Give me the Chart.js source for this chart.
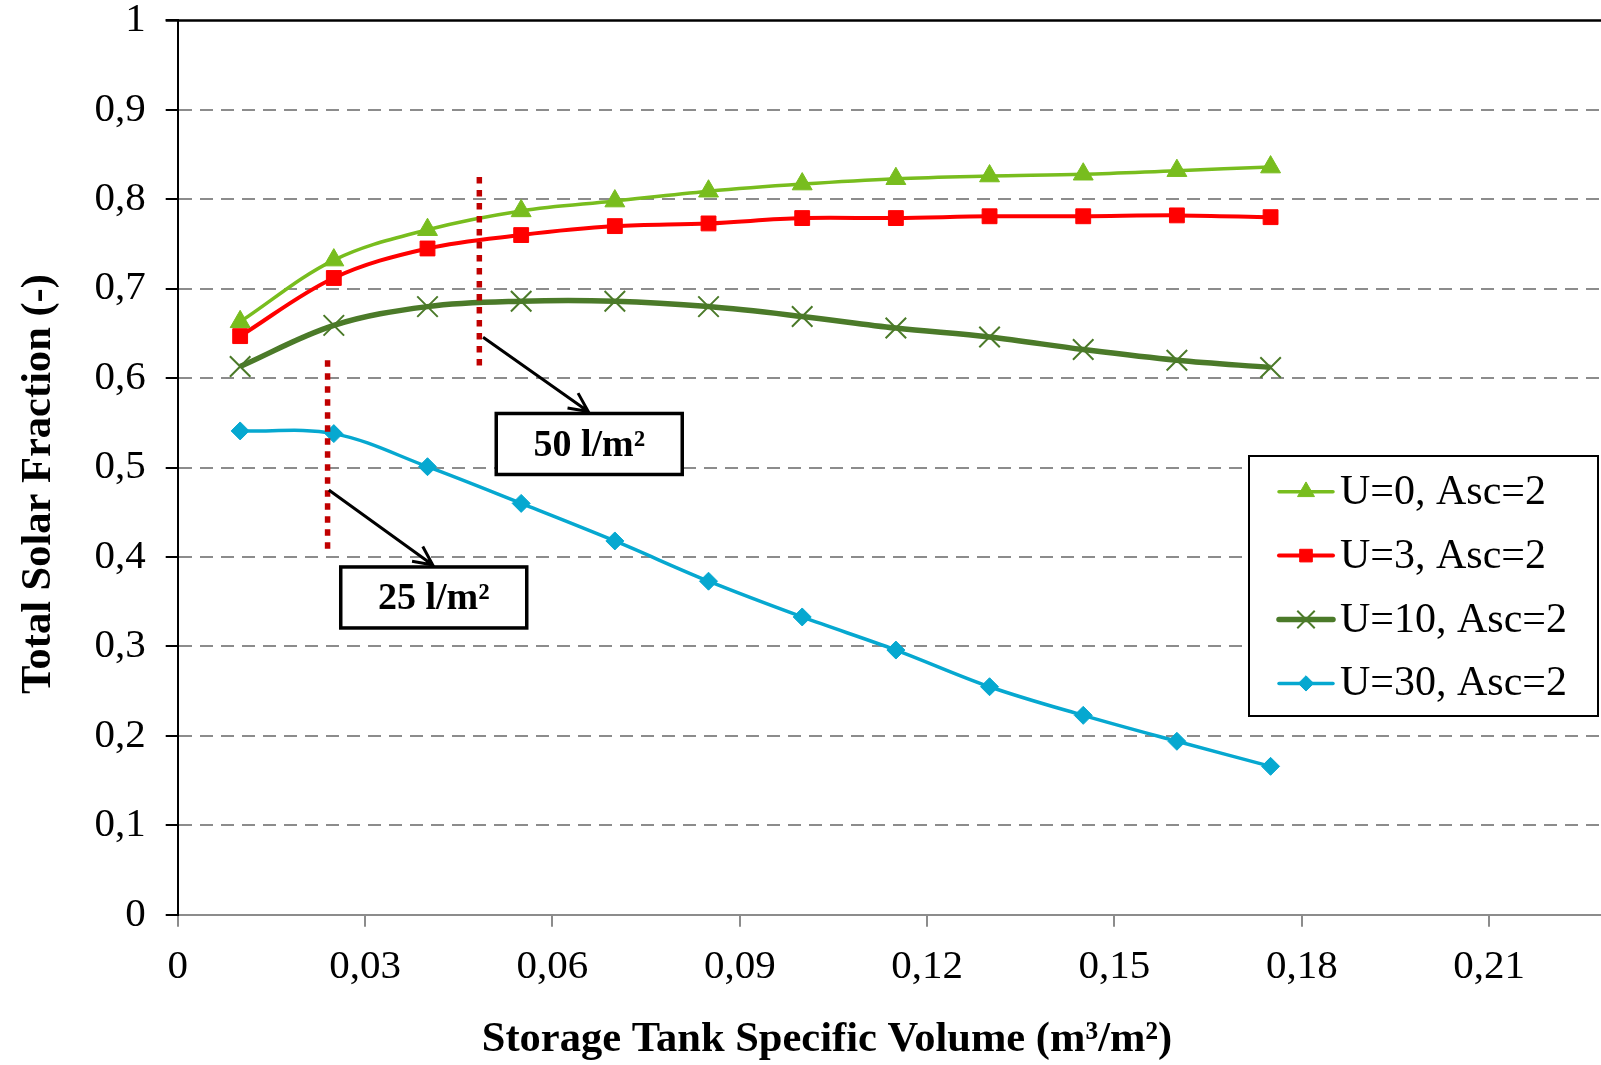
<!DOCTYPE html>
<html>
<head>
<meta charset="utf-8">
<script src="https://cdn.jsdelivr.net/npm/chart.js@4.4.1/dist/chart.umd.min.js"></script>
<style>
  html, body { margin: 0; padding: 0; background: #fff; }
  #wrap { width: 1601px; height: 1065px; overflow: hidden; position: relative; background: #fff; }
  canvas { display: block; }
</style>
</head>
<body>
<div id="wrap"><canvas id="fraction-chart" width="1700" height="1065"></canvas></div>
<script>
// storage tank specific volume (m3/m2)
const specVolume = [0.01, 0.025, 0.04, 0.055, 0.07, 0.085, 0.1, 0.115, 0.13, 0.145, 0.16, 0.175];

// total solar fraction for each heat loss coefficient U
const fracU0  = [0.663, 0.732, 0.766, 0.787, 0.798, 0.809, 0.817, 0.823, 0.826, 0.828, 0.832, 0.836];
const fracU3  = [0.647, 0.712, 0.745, 0.760, 0.770, 0.773, 0.779, 0.779, 0.781, 0.781, 0.782, 0.780];
const fracU10 = [0.613, 0.659, 0.680, 0.686, 0.686, 0.680, 0.669, 0.656, 0.646, 0.632, 0.620, 0.612];
const fracU30 = [0.541, 0.538, 0.501, 0.460, 0.418, 0.373, 0.333, 0.296, 0.255, 0.223, 0.194, 0.166];

const seriesLabels = ['U=0, Asc=2', 'U=3, Asc=2', 'U=10, Asc=2', 'U=30, Asc=2'];

const xTicks = [0, 0.03, 0.06, 0.09, 0.12, 0.15, 0.18, 0.21];
const yTicks = [0, 0.1, 0.2, 0.3, 0.4, 0.5, 0.6, 0.7, 0.8, 0.9, 1];

// 25 and 50 l/m2 markers: dotted line, arrow and label box (data units)
const notes = [
  { text: '25 l/m²', lineX: 0.024, lineFrom: 0.407, lineTo: 0.620, arrowX: 0.0242, arrowY: 0.475, boxX: 0.0410, boxY: 0.3548 },
  { text: '50 l/m²', lineX: 0.0483, lineFrom: 0.610, lineTo: 0.825, arrowX: 0.0489, arrowY: 0.6457, boxX: 0.0659, boxY: 0.5264 }
];

const serif = "'Liberation Serif', 'Times New Roman', serif";

const fmt = v => {
  const r = Math.round(v * 100) / 100;
  return r === 0 ? '0' : String(r).replace('.', ',');
};

function series(label, values, color, width, style, radius, pointBorder) {
  return {
    label: label,
    data: specVolume.map((x, i) => ({ x: x, y: values[i] })),
    borderColor: color,
    backgroundColor: color,
    borderWidth: width,
    pointStyle: style,
    pointRadius: radius,
    pointBackgroundColor: color,
    pointBorderColor: color,
    pointBorderWidth: pointBorder,
    tension: 0.35,
    fill: false
  };
}

const datasets = [
  series(seriesLabels[0], fracU0, '#78bd1e', 3.5, 'triangle', 11.5, 1),
  series(seriesLabels[1], fracU3, '#ff0000', 4, 'rect', 10.5, 1),
  series(seriesLabels[2], fracU10, '#4b7a29', 5.5, 'crossRot', 14.5, 2),
  series(seriesLabels[3], fracU30, '#06a8d0', 3.5, 'rectRot', 9, 1)
];

function arrow(ctx, x1, y1, x2, y2) {
  const ang = Math.atan2(y2 - y1, x2 - x1);
  const head = 21, spread = 0.45;
  ctx.beginPath();
  ctx.moveTo(x1, y1);
  ctx.lineTo(x2, y2);
  ctx.moveTo(x2 - head * Math.cos(ang - spread), y2 - head * Math.sin(ang - spread));
  ctx.lineTo(x2, y2);
  ctx.lineTo(x2 - head * Math.cos(ang + spread), y2 - head * Math.sin(ang + spread));
  ctx.stroke();
}

const extras = {
  id: 'extras',
  afterDatasetsDraw(chart) {
    const { ctx, chartArea, scales: { x, y } } = chart;
    ctx.save();

    // top frame line at 1
    ctx.strokeStyle = '#000';
    ctx.lineWidth = 2.5;
    ctx.beginPath();
    ctx.moveTo(chartArea.left - 12, y.getPixelForValue(1));
    ctx.lineTo(chartArea.right, y.getPixelForValue(1));
    ctx.stroke();

    notes.forEach(n => {
      // dotted marker line
      ctx.strokeStyle = '#c00000';
      ctx.lineWidth = 5.5;
      ctx.setLineDash([6.5, 6.5]);
      ctx.beginPath();
      ctx.moveTo(x.getPixelForValue(n.lineX), y.getPixelForValue(n.lineTo));
      ctx.lineTo(x.getPixelForValue(n.lineX), y.getPixelForValue(n.lineFrom));
      ctx.stroke();
      ctx.setLineDash([]);

      // label box
      const bw = 186, bh = 61;
      const cx = x.getPixelForValue(n.boxX), cy = y.getPixelForValue(n.boxY);
      ctx.fillStyle = '#fff';
      ctx.fillRect(cx - bw / 2, cy - bh / 2, bw, bh);
      ctx.strokeStyle = '#000';
      ctx.lineWidth = 3.5;
      ctx.strokeRect(cx - bw / 2, cy - bh / 2, bw, bh);
      ctx.fillStyle = '#000';
      ctx.font = 'bold 38px ' + serif;
      ctx.textAlign = 'center';
      ctx.textBaseline = 'middle';
      ctx.fillText(n.text, cx, cy + 2);

      // arrow pointing at the box
      ctx.lineWidth = 3;
      arrow(ctx, x.getPixelForValue(n.arrowX), y.getPixelForValue(n.arrowY), cx - 1, cy - bh / 2 - 2);
    });

    // legend
    const lg = { left: 1249, top: 456, right: 1598, bottom: 716, row: 491.7, gap: 63.9, from: 1279, to: 1333, text: 1340 };
    ctx.fillStyle = '#fff';
    ctx.fillRect(lg.left, lg.top, lg.right - lg.left, lg.bottom - lg.top);
    ctx.strokeStyle = '#000';
    ctx.lineWidth = 2;
    ctx.strokeRect(lg.left, lg.top, lg.right - lg.left, lg.bottom - lg.top);
    chart.data.datasets.forEach((ds, i) => {
      const ry = lg.row + i * lg.gap;
      ctx.strokeStyle = ds.borderColor;
      ctx.lineWidth = ds.borderWidth;
      ctx.lineCap = 'round';
      ctx.beginPath();
      ctx.moveTo(lg.from, ry);
      ctx.lineTo(lg.to, ry);
      ctx.stroke();
      ctx.lineCap = 'butt';
      ctx.fillStyle = ds.pointBackgroundColor;
      ctx.strokeStyle = ds.pointBorderColor;
      ctx.lineWidth = ds.pointBorderWidth;
      Chart.helpers.drawPoint(ctx, {
        pointStyle: ds.pointStyle, radius: ds.pointRadius * 0.85, rotation: 0, borderWidth: ds.pointBorderWidth
      }, (lg.from + lg.to) / 2, ry);
      ctx.fillStyle = '#000';
      ctx.font = '42px ' + serif;
      ctx.textAlign = 'left';
      ctx.textBaseline = 'middle';
      ctx.fillText(ds.label, lg.text, ry + 1);
    });

    // axis titles
    ctx.fillStyle = '#000';
    ctx.font = 'bold 42.5px ' + serif;
    ctx.textAlign = 'center';
    ctx.textBaseline = 'middle';
    ctx.fillText('Storage Tank Specific Volume (m³/m²)', 827, 1040);
    ctx.save();
    ctx.translate(39.5, 484);
    ctx.rotate(-Math.PI / 2);
    ctx.fillText('Total Solar Fraction (-)', 0, 0);
    ctx.restore();

    ctx.restore();
  }
};

const fractionChart = new Chart(document.getElementById('fraction-chart').getContext('2d'), {
  type: 'line',
  data: { datasets: datasets },
  options: {
    responsive: false,
    animation: false,
    events: [],
    layout: { padding: { top: 0, right: 23.5, left: 0, bottom: 0 } },
    plugins: {
      legend: { display: false },
      tooltip: { enabled: false }
    },
    scales: {
      x: {
        type: 'linear',
        min: 0,
        max: 0.24,
        afterBuildTicks: s => { s.ticks = xTicks.map(v => ({ value: v })); },
        ticks: {
          callback: fmt,
          maxRotation: 0,
          autoSkip: false,
          color: '#000',
          padding: 20,
          font: { family: serif, size: 41, lineHeight: 1 }
        },
        grid: { drawOnChartArea: false, color: '#8c8c8c', lineWidth: 2, tickLength: 12 },
        border: { color: '#8c8c8c', width: 2 },
        afterFit: s => { s.height = 150.2; }
      },
      y: {
        min: 0,
        max: 1,
        afterBuildTicks: s => { s.ticks = yTicks.map(v => ({ value: v })); },
        ticks: {
          callback: fmt,
          color: '#000',
          padding: 20,
          font: { family: serif, size: 41, lineHeight: 1 }
        },
        grid: {
          color: c => (c.tick && c.tick.value > 0.001 && c.tick.value < 0.999) ? '#8c8c8c' : 'rgba(0,0,0,0)',
          lineWidth: 2,
          tickColor: '#000',
          tickWidth: 2,
          tickLength: 12
        },
        border: { color: '#000', width: 2, dash: [13, 8] },
        afterFit: s => {
          s.width = 177.7;
          s.paddingTop = 20.4;
          s.paddingBottom = 0;
        }
      }
    }
  },
  plugins: [extras]
});
</script>
</body>
</html>
